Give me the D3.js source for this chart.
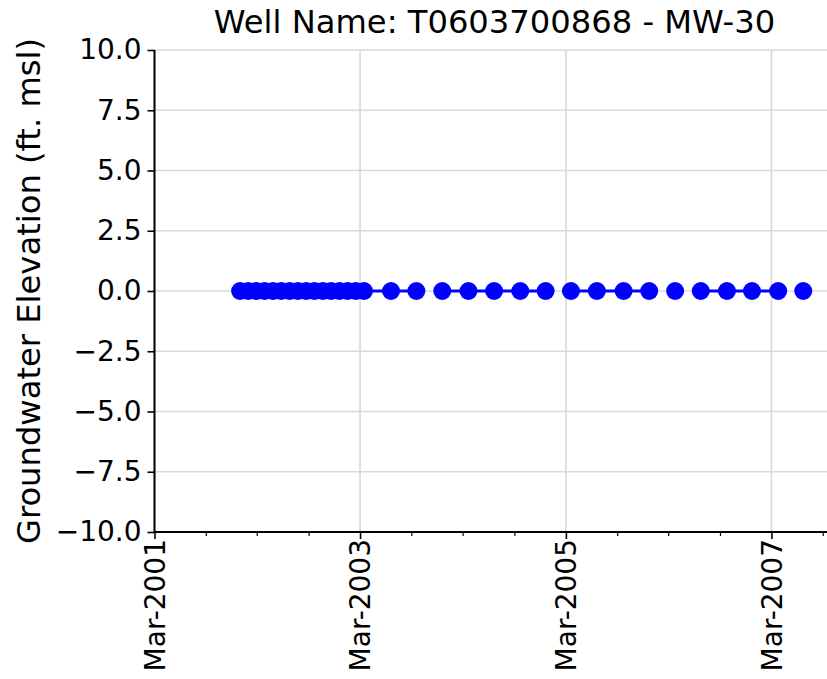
<!DOCTYPE html>
<html>
<head>
<meta charset="utf-8">
<script src="https://cdn.jsdelivr.net/npm/d3@7/dist/d3.min.js"></script>
<style>
  html, body { margin: 0; padding: 0; background: #fff; }
  svg { display: block; font-family: "DejaVu Sans", sans-serif; }
</style>
</head>
<body>
<svg id="chart" width="827" height="679"></svg>
<script>
// ---- data ----
const title = "Well Name: T0603700868 - MW-30";
const yLabel = "Groundwater Elevation (ft. msl)";
// sample dates (null values break the line, as in the original)
const dates = [
  "2001-12-30","2002-01-28","2002-02-26","2002-03-27","2002-04-26","2002-05-25",
  "2002-06-24","2002-07-23","2002-08-22","2002-09-20","2002-10-20","2002-11-18",
  "2002-12-18","2003-01-16","2003-02-14","2003-03-15",
  "2003-06-19","2003-09-17","2003-11-01","2003-12-18","2004-03-20","2004-06-19",
  "2004-09-20","2004-12-19","2005-02-01","2005-03-19","2005-06-19","2005-09-22",
  "2005-12-22","2006-02-01","2006-03-24","2006-05-01","2006-06-23","2006-09-24",
  "2006-12-22","2007-03-25","2007-05-01","2007-06-22"
];
const elevations = [
  0,0,0,0,0,0,
  0,0,0,0,0,0,
  0,0,0,0,
  0,0,null,0,0,0,
  0,0,null,0,0,0,
  0,null,0,null,0,0,
  0,0,null,0
];
const yTicks = [-10, -7.5, -5, -2.5, 0, 2.5, 5, 7.5, 10];
const xMajorTicks = ["2001-03-01","2003-03-01","2005-03-01","2007-03-01"];
const xMinorTicks = ["2001-09-01","2002-03-01","2002-09-01","2003-09-01","2004-03-01",
  "2004-09-01","2005-09-01","2006-03-01","2006-09-01","2007-09-01"];
const xDomain = ["2001-03-01","2007-10-11"];
const yDomain = [-10, 10];

// ---- layout ----
const parse = d3.utcParse("%Y-%m-%d");
const margin = {left: 154.5, top: 50, right: 834.5, bottom: 532};
const svg = d3.select("#chart");

const x = d3.scaleUtc().domain(xDomain.map(parse)).range([margin.left, margin.right]);
const y = d3.scaleLinear().domain(yDomain).range([margin.bottom, margin.top]);

const data = dates.map((d, i) => ({date: parse(d), value: elevations[i]}));

const gridColor = "#d9d9d9";
// grid
svg.append("g").selectAll("line.hg").data(yTicks).join("line")
  .attr("x1", margin.left).attr("x2", margin.right)
  .attr("y1", d => y(d)).attr("y2", d => y(d))
  .attr("stroke", gridColor).attr("stroke-width", 1.6);
svg.append("g").selectAll("line.vg").data(xMajorTicks.map(parse)).join("line")
  .attr("x1", d => x(d)).attr("x2", d => x(d))
  .attr("y1", margin.top).attr("y2", margin.bottom)
  .attr("stroke", gridColor).attr("stroke-width", 1.6);

// line
const line = d3.line()
  .defined(d => d.value !== null)
  .x(d => x(d.date)).y(d => y(d.value));
svg.append("path").datum(data)
  .attr("d", line)
  .attr("fill", "none").attr("stroke", "#0000ff").attr("stroke-width", 3);

// markers
svg.append("g").selectAll("circle").data(data.filter(d => d.value !== null)).join("circle")
  .attr("cx", d => x(d.date)).attr("cy", d => y(d.value))
  .attr("r", 9).attr("fill", "#0000ff");

// y axis
const fmtY = v => v.toFixed(1).replace("-", "\u2212");
const yAxis = svg.append("g").attr("transform", `translate(${margin.left},0)`)
  .call(d3.axisLeft(y).tickValues(yTicks).tickFormat(fmtY).tickSize(7).tickPadding(6));
yAxis.select(".domain").attr("stroke", "#000").attr("stroke-width", 2)
  .attr("d", `M0,${margin.bottom}V${margin.top}`);
yAxis.selectAll(".tick line").attr("stroke", "#000").attr("stroke-width", 1.6);
yAxis.selectAll(".tick text").attr("font-size", "28px").attr("fill", "#000")
  .attr("font-family", "DejaVu Sans");

// x axis
const xAxis = svg.append("g").attr("transform", `translate(0,${margin.bottom})`)
  .call(d3.axisBottom(x).tickValues(xMajorTicks.map(parse))
    .tickFormat(d3.utcFormat("%b-%Y")).tickSize(7).tickPadding(9));
xAxis.select(".domain").attr("stroke", "#000").attr("stroke-width", 2)
  .attr("d", `M${margin.left},0H${margin.right}`);
xAxis.selectAll(".tick line").attr("stroke", "#000").attr("stroke-width", 1.6);
xAxis.selectAll(".tick text")
  .attr("font-size", "28px").attr("fill", "#000").attr("font-family", "DejaVu Sans")
  .attr("text-anchor", "end")
  .attr("transform", "rotate(-90)")
  .attr("x", -7).attr("y", 0).attr("dy", "0.35em");

// minor ticks
svg.append("g").selectAll("line").data(xMinorTicks.map(parse)).join("line")
  .attr("x1", d => x(d)).attr("x2", d => x(d))
  .attr("y1", margin.bottom).attr("y2", margin.bottom + 4)
  .attr("stroke", "#000").attr("stroke-width", 1.2);

// title
svg.append("text")
  .attr("x", (margin.left + margin.right) / 2).attr("y", 33)
  .attr("text-anchor", "middle").attr("font-size", "32.2px").attr("fill", "#000")
  .text(title);

// y label
svg.append("text")
  .attr("transform", `translate(40,${(margin.top + margin.bottom) / 2}) rotate(-90)`)
  .attr("text-anchor", "middle").attr("font-size", "32.2px").attr("fill", "#000")
  .text(yLabel);
</script>
</body>
</html>
